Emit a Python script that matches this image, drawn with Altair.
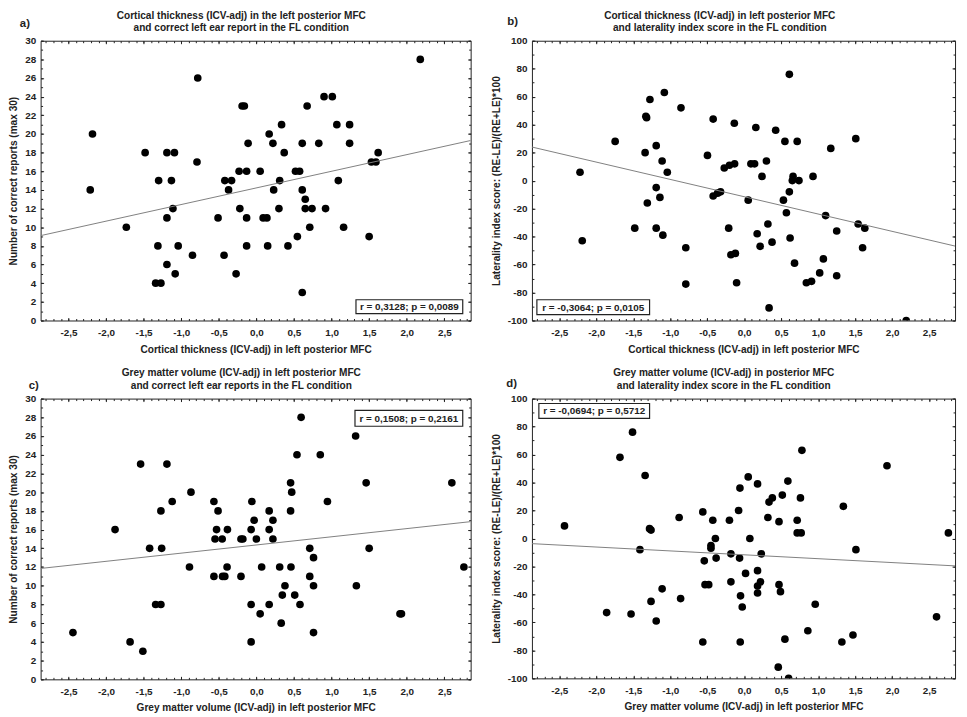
import altair as alt
import pandas as pd

# ---------------- data ----------------
# a) cortical thickness vs correct left ear reports
a_x = [2.18, -0.78, -2.18, 0.17, -1.48, -1.19, -1.09, 0.37, 1.62, -0.79, 1.53, 1.59,
       -0.19, -0.16, 0.675, 0.90, 1.01, 0.335, 1.07, 1.24, -0.11, 0.22, 0.61, 0.83, 1.24,
       -0.23, -0.13, 0.05, 0.52, 0.575, -1.30, -1.13, -0.42, -0.33, 0.31, 1.09,
       -2.21, -0.37, 0.23, 0.61, 0.65, -1.11, -0.22, 0.30, 0.65, 0.74, 0.92,
       -1.19, -0.51, -0.13, 0.09, 0.14, -1.73, 0.71, 1.16, 0.545, 1.50,
       -1.31, -1.04, -0.13, 0.15, 0.42, -0.85, -0.43, -1.19, -1.08, -0.27, -1.34, -1.27, 0.61]
a_y = [28, 26, 20, 20, 18, 18, 18, 18, 18, 17, 17, 17,
       23, 23, 23, 24, 24, 21, 21, 21, 19, 19, 19, 19, 19,
       16, 16, 16, 16, 16, 15, 15, 15, 15, 15, 15,
       14, 14, 14, 14, 13, 12, 12, 12, 12, 12, 12,
       11, 11, 11, 11, 11, 10, 10, 10, 9, 9,
       8, 8, 8, 8, 8, 7, 7, 6, 5, 5, 4, 4, 3]
a_fit_x = [-2.87, 2.85]
a_fit_y = [9.1, 19.3]

# b) cortical thickness vs laterality index
b_x = [0.61, -1.08, -1.275, -0.855, -1.32, -1.33, -0.42, -0.134, 0.157, 0.425, -1.745, 0.55,
       0.716, 1.508, 1.17, -1.19, -1.34, -0.497, -1.11, 0.30, -1.04, -2.22, -0.27, -0.20,
       -0.13, 0.09, 0.14, 0.24, 0.66, 0.65, 0.74, 0.93, -1.19, -1.14, -1.31, -0.42, -0.36,
       -0.32, 0.054, 0.53, 0.61, 0.57, 1.10, 1.54, 1.63, 0.32, -1.48, -1.19, -0.21, -1.10,
       0.175, 1.25, -2.19, 0.376, 0.215, 0.62, -0.79, 1.60, -0.18, -0.12, 0.68, 1.07, 1.02,
       1.25, 0.84, 0.91, -0.79, -0.103, 0.336, 2.19]
b_y = [76, 63, 58, 52, 45, 46, 44, 41, 38, 36, 28, 28,
       28, 30, 23, 25, 20, 18, 14, 14, 6, 6, 9, 11,
       12, 12, 12, 3, 3, 0, 0, 3, -5, -12, -16, -11, -9,
       -8, -14, -14, -8, -23, -25, -31, -34, -31, -34, -34, -34, -39,
       -38, -36, -43, -44, -47, -41, -48, -48, -53, -52, -59, -56, -66,
       -68, -73, -72, -74, -73, -91, -100]
b_fit_x = [-2.87, 2.85]
b_fit_y = [24.0, -46.8]

# c) grey matter volume vs correct left ear reports
c_x = [0.595, 1.32, 0.54, 0.85, -1.54, -1.19, 0.455, 1.46, 2.60, -0.87, 0.47, -1.12,
       -0.565, -0.06, 0.945, -1.27, -0.51, 0.17, 0.455, -0.03, 0.22, -1.88, -0.53, -0.385,
       -0.07, 0.17, -0.55, -0.455, -0.205, -0.18, 0.0, 0.22, -1.42, -1.26, 0.71, 1.50,
       0.76, -0.89, -0.39, 0.07, 0.31, 0.46, 2.76, -0.565, -0.45, -0.42, -0.205, 0.71,
       0.38, 0.76, 1.33, 0.345, 0.51, -1.34, -1.27, -0.07, 0.17, 0.58, 0.05, 1.91, 1.93,
       0.33, -2.44, 0.76, -1.68, -0.07, -1.51]
c_y = [28, 26, 24, 24, 23, 23, 21, 21, 21, 20, 20, 19,
       19, 19, 19, 18, 18, 18, 18, 17, 17, 16, 16, 16,
       16, 16, 15, 15, 15, 15, 15, 15, 14, 14, 14, 14,
       13, 12, 12, 12, 12, 12, 12, 11, 11, 11, 11, 11,
       10, 10, 10, 9, 9, 8, 8, 8, 8, 8, 7, 7, 7,
       6, 5, 5, 4, 4, 3]
c_fit_x = [-2.87, 2.85]
c_fit_y = [11.85, 16.85]

# d) grey matter volume vs laterality index
d_x = [-1.51, -1.68, 0.78, 1.93, -1.34, 0.054, 0.18, -0.058, 0.59, 0.515, 0.38, 0.335,
       0.76, 1.34, -0.076, -0.56, -0.88, 0.32, -0.425, -0.20, 0.47, 0.716, -2.43, -1.28,
       -1.26, 0.716, 0.77, 2.76, -0.39, 0.076, -1.41, -0.45, -0.45, -0.18, -0.38, -0.54,
       -0.063, 0.23, 1.51, 0.018, 0.18, -0.18, 0.22, 0.18, -0.53, -0.48, 0.47, -1.11,
       0.18, 0.49, -0.86, -1.26, -0.05, -0.027, 0.96, -1.86, -1.53, -1.19, 2.60, 0.86,
       1.47, -0.56, -0.054, 0.55, 1.32, 0.46, 0.60]
d_y = [76, 58, 63, 52, 45, 44, 39, 36, 41, 31, 29, 26,
       29, 23, 20, 19, 15, 15, 13, 13, 12, 13, 9, 7,
       6, 4, 4, 4, 0, 0, -8, -5, -7, -11, -14, -16,
       -14, -11, -8, -25, -23, -31, -31, -34, -33, -33, -33, -36,
       -39, -38, -43, -45, -41, -49, -47, -53, -54, -59, -56, -66,
       -69, -74, -74, -72, -74, -92, -100]
d_fit_x = [-2.87, 2.85]
d_fit_y = [-3.7, -19.6]

# axis ticks
X_DOMAIN = [-2.87, 2.85]
x_major = [-2.5, -2.0, -1.5, -1.0, -0.5, 0.0, 0.5, 1.0, 1.5, 2.0, 2.5]
x_minor = [round(-2.8 + 0.1 * i, 1) for i in range(57)]
count_major = [0, 2, 4, 6, 8, 10, 12, 14, 16, 18, 20, 22, 24, 26, 28, 30]
count_minor = list(range(0, 31))
li_major = [-100, -80, -60, -40, -20, 0, 20, 40, 60, 80, 100]
li_minor = list(range(-100, 101, 10))

FONT = "Liberation Sans"
INK = "#222222"

LAB_X = "replace(replace(format(datum.value, '.1f'), '.', ','), '\u2212', '-')"
LAB_Y = "replace(format(datum.value, 'd'), '\u2212', '-')"


def text_layer(s, x, y, size, align="center"):
    return alt.Chart(pd.DataFrame({"t": [s]})).mark_text(
        font=FONT, fontSize=size, fontWeight="bold", color=INK,
        align=align, baseline="middle").encode(
        x=alt.value(x), y=alt.value(y), text="t:N")


def panel(xs, ys, fx, fy, title, title_xy, tag, tag_xy, xtitle, ytitle, ydom, ymaj, ymin,
          stat, box, w, h):
    pts = pd.DataFrame({"x": xs, "y": ys})
    fit = pd.DataFrame({"x": fx, "y": fy})
    xsc = alt.Scale(domain=X_DOMAIN, nice=False, zero=False)
    ysc = alt.Scale(domain=ydom, nice=False, zero=False)

    def ax(orient, values, size, labels=False, title=None, expr=None):
        kw = dict(orient=orient, values=values, tickSize=size, offset=-size,
                  domain=False, grid=False, labels=labels, tickColor=INK,
                  tickWidth=1)
        if labels:
            kw.update(labelExpr=expr,
                      labelPadding=7 if orient == "bottom" else 5)
        if title:
            kw.update(title=title, titlePadding=7 if orient == "bottom" else 6)
        else:
            kw.update(title=None)
        return alt.Axis(**kw)

    def X(a):
        return alt.X("x:Q", scale=xsc, axis=a)

    def Y(a):
        return alt.Y("y:Q", scale=ysc, axis=a)

    l_pts = alt.Chart(pts).mark_circle(size=60, color="black", opacity=1, clip=True).encode(
        x=X(ax("bottom", x_major, 3, True, xtitle, LAB_X)),
        y=Y(ax("left", ymaj, 3, True, ytitle, LAB_Y)),
    )
    l_fit = alt.Chart(fit).mark_line(color="#808080", strokeWidth=1, clip=True).encode(
        x=X(ax("bottom", x_minor, 2)),
        y=Y(ax("left", ymin, 2)),
    )
    l_tr = alt.Chart(fit).mark_point(opacity=0).encode(
        x=X(ax("top", x_major, 3)),
        y=Y(ax("right", ymaj, 3)),
    )
    l_tr2 = alt.Chart(fit).mark_point(opacity=0).encode(
        x=X(ax("top", x_minor, 2)),
        y=Y(ax("right", ymin, 2)),
    )
    x0, x1, y0, y1 = box
    l_box = alt.Chart(pd.DataFrame({"t": [stat]})).mark_rect(
        fill="white", stroke=INK, strokeWidth=1.2).encode(
        x=alt.value(x0), x2=alt.value(x1), y=alt.value(y0), y2=alt.value(y1))
    l_stat = text_layer(stat, (x0 + x1) / 2, (y0 + y1) / 2 + 0.5, 10)
    l_tag = text_layer(tag, tag_xy[0], tag_xy[1], 11.5, "left")
    l_t1 = text_layer(title[0], title_xy[0], title_xy[1], 10.2)
    l_t2 = text_layer(title[1], title_xy[0], title_xy[1] + 12.5, 10.2)

    return alt.layer(l_pts, l_fit, l_tr, l_tr2, l_box, l_stat, l_tag, l_t1, l_t2).properties(
        width=w, height=h,
    ).resolve_axis(x="independent", y="independent")


pa = panel(a_x, a_y, a_fit_x, a_fit_y,
           ["Cortical thickness (ICV-adj) in the left posterior MFC",
            "and correct left ear report in the FL condition"], (203, -25),
           "a)", (-21, -17),
           "Cortical thickness (ICV-adj) in left posterior MFC",
           "Number of correct reports (max 30)",
           [0, 30], count_major, count_minor,
           "r = 0,3128; p = 0,0089", (319, 427, 262, 276), 435, 283)

pb = panel(b_x, b_y, b_fit_x, b_fit_y,
           ["Cortical thickness (ICV-adj) in left posterior MFC",
            "and laterality index score in the FL condition"], (190, -25),
           "b)", (-25, -19),
           "Cortical thickness (ICV-adj) in left posterior MFC",
           "Laterality index score: (RE-LE)/(RE+LE)*100",
           [-100, 100], li_major, li_minor,
           "r = -0,3064; p = 0,0105", (5, 119, 262, 277), 428, 283)

pc = panel(c_x, c_y, c_fit_x, c_fit_y,
           ["Grey matter volume (ICV-adj) in left posterior MFC",
            "and correct left ear reports in the FL condition"], (203, -25.5),
           "c)", (-12, -13),
           "Grey matter volume (ICV-adj) in left posterior MFC",
           "Number of correct reports (max 30)",
           [0, 30], count_major, count_minor,
           "r = 0,1508; p = 0,2161", (318, 427, 12, 28), 435, 284)

pd_ = panel(d_x, d_y, d_fit_x, d_fit_y,
            ["Grey matter volume (ICV-adj) in posterior MFC",
             "and laterality index score in the FL condition"], (194, -25.5),
            "d)", (-26, -15),
            "Grey matter volume (ICV-adj) in left posterior MFC",
            "Laterality index score: (RE-LE)/(RE+LE)*100",
            [-100, 100], li_major, li_minor,
            "r = -0,0694; p = 0,5712", (7, 119, 5, 20), 428, 283)

chart = alt.vconcat(
    alt.hconcat(pa, pb, spacing=16),
    alt.hconcat(pc, pd_, spacing=16),
    spacing=13,
).properties(
    padding={"left": 0, "top": -2, "right": 0, "bottom": 0},
).configure_view(
    stroke=INK, strokeWidth=1,
).configure_axis(
    labelFont=FONT, labelFontSize=10, labelFontWeight="bold", labelColor=INK,
    titleFont=FONT, titleFontSize=10.2, titleFontWeight="bold", titleColor=INK,
)

chart.save("out.html", embed_options={"renderer": "svg", "actions": False})
